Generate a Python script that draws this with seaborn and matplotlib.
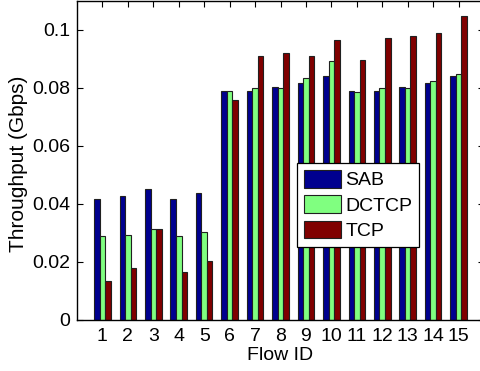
import matplotlib
matplotlib.use("Agg")
import matplotlib.pyplot as plt
import seaborn as sns
import pandas as pd

flows = [str(i) for i in range(1, 16)]
sab = [0.0416, 0.0426, 0.0451, 0.0416, 0.0439, 0.0790, 0.0790, 0.0804, 0.0817, 0.0840,
       0.0789, 0.0789, 0.0802, 0.0816, 0.0841]
dctcp = [0.0291, 0.0292, 0.0315, 0.0291, 0.0304, 0.0790, 0.0800, 0.0800, 0.0834, 0.0893,
         0.0787, 0.0800, 0.0800, 0.0824, 0.0848]
tcp = [0.0134, 0.0180, 0.0313, 0.0167, 0.0204, 0.0759, 0.0910, 0.0920, 0.0910, 0.0966,
       0.0896, 0.0971, 0.0978, 0.0990, 0.1048]
series = ["SAB", "DCTCP", "TCP"]
colors = ["#00008F", "#80FF80", "#800000"]
yticks = [0, 0.02, 0.04, 0.06, 0.08, 0.1]
ytick_labels = ["0", "0.02", "0.04", "0.06", "0.08", "0.1"]

df = pd.DataFrame({
    "Flow": flows * 3,
    "Throughput": sab + dctcp + tcp,
    "Protocol": [s for s in series for _ in flows],
})

sns.set_style("ticks")
plt.rcParams['font.family'] = ['Liberation Sans', 'DejaVu Sans']
plt.rcParams.update({"text.color": "black", "axes.labelcolor": "black",
                     "xtick.color": "black", "ytick.color": "black",
                     "axes.edgecolor": "black"})

fig = plt.figure(figsize=(4.8, 3.71), dpi=100)
ax = fig.add_axes([77 / 480, 51 / 371, 407 / 480, 319 / 371])

sns.barplot(data=df, x="Flow", y="Throughput", hue="Protocol", order=flows,
            hue_order=series, palette=colors, width=0.65, edgecolor="#202020",
            linewidth=0.8, saturation=1, ax=ax, legend=True)

ax.set_xlim(-1, 15)
ax.set_ylim(0, 0.11)
ax.set_yticks(yticks)
ax.set_yticklabels(ytick_labels)
ax.set_xlabel("Flow ID", fontsize=14, labelpad=1.5)
ax.set_ylabel("Throughput (Gbps)", fontsize=15, labelpad=3)
ax.yaxis.set_label_coords(-0.121, 0.49)
ax.tick_params(axis="both", which="both", direction="in", length=4, width=0.8,
               labelsize=14, top=True, right=True, pad=5, colors="black")
ax.tick_params(axis="x", pad=6)
for s in ax.spines.values():
    s.set_linewidth(1.0)
    s.set_color("black")

leg = ax.legend(loc="center", bbox_to_anchor=((358 - 77) / 407, 1 - 204 / 319),
                fontsize=14, frameon=True, fancybox=False, framealpha=1,
                edgecolor="black", handlelength=1.9, handleheight=1.0,
                handletextpad=0.25, labelspacing=0.3, borderpad=0.35,
                borderaxespad=0)
leg.get_frame().set_linewidth(0.9)
for t in leg.get_texts():
    t.set_color("black")

fig.savefig("out.png", dpi=100)
